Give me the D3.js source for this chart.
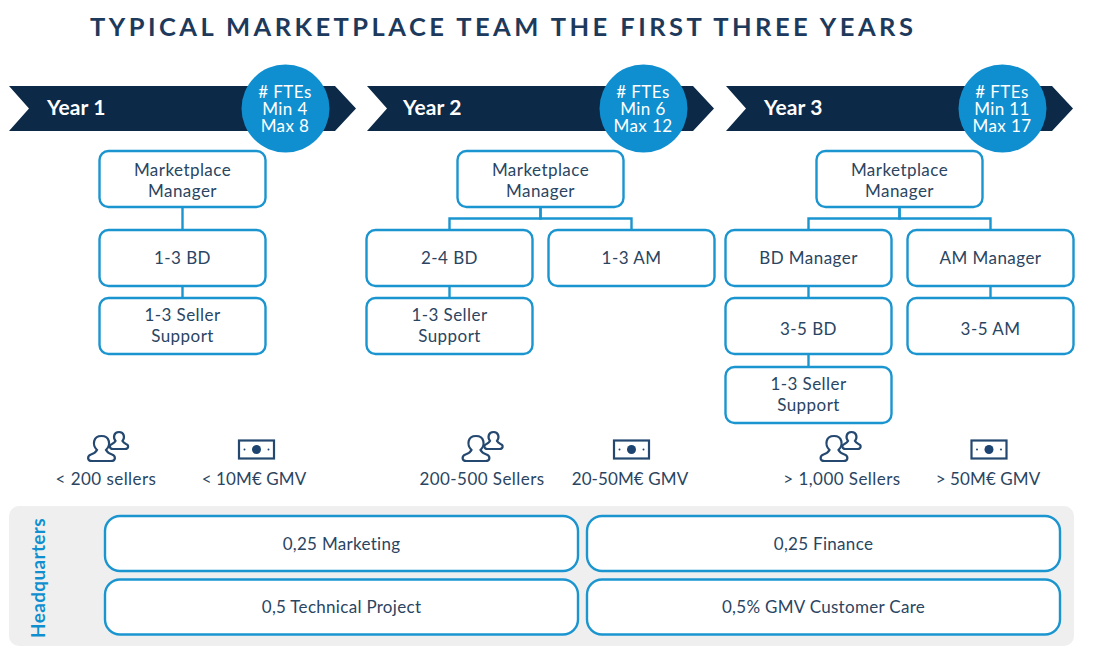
<!DOCTYPE html>
<html>
<head>
<meta charset="utf-8">
<script src="https://cdn.jsdelivr.net/npm/d3@7"></script>
<style>
  html, body { margin: 0; padding: 0; background: #fff; }
  svg { display: block; }
  text { font-family: Lato, "Open Sans", sans-serif; }
</style>
</head>
<body>
<script>
var w = 1103;
var h = 651;

var navy = "#0c2947";
var ink = "#2a4562";
var blue = "#0f8fcf";
var line = "#1b95cf";
var iconInk = "#24486f";

var chartTitle = "TYPICAL MARKETPLACE TEAM THE FIRST THREE YEARS";
var years = ["Year 1", "Year 2", "Year 3"];
var fteMin = [4, 6, 11];
var fteMax = [8, 12, 17];

// [year, slot, row, label]
var roles = [
  [0, "mid", 0, "Marketplace|Manager"],
  [0, "mid", 1, "1-3 BD"],
  [0, "mid", 2, "1-3 Seller|Support"],
  [1, "mid", 0, "Marketplace|Manager"],
  [1, "left", 1, "2-4 BD"],
  [1, "right", 1, "1-3 AM"],
  [1, "left", 2, "1-3 Seller|Support"],
  [2, "mid", 0, "Marketplace|Manager"],
  [2, "left", 1, "BD Manager"],
  [2, "right", 1, "AM Manager"],
  [2, "left", 2, "3-5 BD"],
  [2, "right", 2, "3-5 AM"],
  [2, "left", 3, "1-3 Seller|Support"]
];

// child role index -> parent role index
var reports = [[1, 0], [2, 1], [4, 3], [5, 3], [6, 4], [8, 7], [9, 7], [10, 8], [11, 9], [12, 10]];

var sellers = ["< 200 sellers", "200-500 Sellers", "> 1,000 Sellers"];
var gmv = ["< 10M€ GMV", "20-50M€ GMV", "> 50M€ GMV"];
var sellerX = [106, 482, 842];
var gmvX = [254, 630, 988];
var peopleX = [108, 482.5, 840.5];
var noteX = [256.5, 631.5, 989];

var hqTitle = "Headquarters";
var hqRoles = ["0,25 Marketing", "0,25 Finance", "0,5 Technical Project", "0,5% GMV Customer Care"];

var boxW = 166, boxH = 56;

var yearX = d3.scaleOrdinal().domain([0, 1, 2]).range([9, 367, 726]);
var slotX = d3.scaleOrdinal().domain(["left", "mid", "right"]).range([-0.5, 90.5, 181.5]);
var rowY = d3.scaleOrdinal().domain([0, 1, 2, 3]).range([151, 230, 298, 367]);

var roleX = function(d) { return yearX(d[0]) + slotX(d[1]); };

var svg = d3.select("body")
  .append("svg")
  .attr("width", w)
  .attr("height", h)
  .attr("viewBox", "0 0 " + w + " " + h);

svg.append("text")
  .attr("x", 90)
  .attr("y", 36)
  .attr("fill", "#1d3a5c")
  .style("font-size", "25.5px")
  .style("font-weight", 700)
  .style("letter-spacing", "3.45px")
  .text(chartTitle);

// year banners
var banner = svg.selectAll(".banner")
  .data(years)
  .enter()
  .append("g")
  .attr("class", "banner")
  .attr("transform", function(d, i) { return "translate(" + yearX(i) + ",0)"; });

banner.append("path")
  .attr("fill", navy)
  .attr("d", "M0,86 H326 L347,108.5 L326,131 H0 L20,108.5 Z");

banner.append("text")
  .attr("x", function(d, i) { return i == 1 ? 36 : 38; })
  .attr("y", 115)
  .attr("fill", "#fff")
  .style("font-size", "21px")
  .style("font-weight", 700)
  .style("letter-spacing", "0.15px")
  .text(function(d) { return d; });

banner.append("circle")
  .attr("cx", 276.5)
  .attr("cy", 108.5)
  .attr("r", 44)
  .attr("fill", blue);

banner.each(function(d, i) {
  var lines = ["# FTEs", "Min " + fteMin[i], "Max " + fteMax[i]];
  d3.select(this).selectAll(".fte")
    .data(lines)
    .enter()
    .append("text")
    .attr("class", "fte")
    .attr("x", 276)
    .attr("y", function(l, j) { return 98 + j * 17; })
    .attr("text-anchor", "middle")
    .attr("fill", "#fff")
    .style("font-size", "17px")
    .style("letter-spacing", "0.4px")
    .text(function(l) { return l; });
});

// connectors
svg.selectAll(".link")
  .data(reports)
  .enter()
  .append("path")
  .attr("class", "link")
  .attr("fill", "none")
  .attr("stroke", line)
  .attr("stroke-width", 2.4)
  .attr("d", function(d) {
    var c = roles[d[0]], p = roles[d[1]];
    var x1 = roleX(p) + boxW / 2, y1 = rowY(p[2]) + boxH;
    var x2 = roleX(c) + boxW / 2, y2 = rowY(c[2]);
    var mid = (y1 + y2) / 2;
    return "M" + x1 + "," + y1 + " V" + mid + " H" + x2 + " V" + y2;
  });

var role = svg.selectAll(".role")
  .data(roles)
  .enter()
  .append("g")
  .attr("class", "role")
  .attr("transform", function(d) { return "translate(" + roleX(d) + "," + rowY(d[2]) + ")"; });

role.append("rect")
  .attr("width", boxW)
  .attr("height", boxH)
  .attr("rx", 9)
  .attr("fill", "#fff")
  .attr("stroke", line)
  .attr("stroke-width", 2.4);

role.each(function(d) {
  var parts = d[3].split("|");
  var lower = d[2] >= 2;
  d3.select(this).selectAll("text")
    .data(parts)
    .enter()
    .append("text")
    .attr("x", boxW / 2)
    .attr("y", function(l, j) {
      if (parts.length == 1) return lower ? 36.5 : 33.5;
      return (lower ? 22.5 : 24.5) + j * 21;
    })
    .attr("text-anchor", "middle")
    .attr("fill", ink)
    .style("font-size", "17px")
    .style("letter-spacing", "0.45px")
    .text(function(l) { return l; });
});

// seller and GMV captions
function caption(labels, xs, spacing) {
  svg.selectAll(null)
    .data(labels)
    .enter()
    .append("text")
    .attr("x", function(d, i) { return xs[i]; })
    .attr("y", 485)
    .attr("text-anchor", "middle")
    .attr("fill", ink)
    .style("font-size", "17px")
    .style("letter-spacing", spacing)
    .text(function(d) { return d; });
}
caption(sellers, sellerX, "0.45px");
caption(gmv, gmvX, "0.1px");

// people icon: small figure behind, big figure in front
var people = svg.selectAll(".people")
  .data(peopleX)
  .enter()
  .append("g")
  .attr("class", "people")
  .attr("transform", function(d) { return "translate(" + d + ",447)"; })
  .attr("fill", "#fff")
  .attr("stroke", iconInk)
  .attr("stroke-width", 2.2);

people.append("path")
  .attr("d", "M5,2 H17 C21,2 21,-2 18,-3 C16,-4 15,-5 14.5,-6 C17,-9 16.5,-15 11,-15 C5.5,-15 5,-9 7.5,-6 C7,-5 6,-4 4,-3 C1,-2 1,2 5,2 Z");
people.append("path")
  .attr("d", "M-16,14 H3 C8,14 8,9 4,7.5 C1,6.5 -1,5 -2,3 C3,-2 2,-11 -6.5,-11 C-15,-11 -16,-2 -11,3 C-12,5 -14,6.5 -17,7.5 C-21,9 -21,14 -16,14 Z");

// banknote icon
var note = svg.selectAll(".note")
  .data(noteX)
  .enter()
  .append("g")
  .attr("class", "note")
  .attr("transform", function(d) { return "translate(" + d + ",449.5)"; });

note.append("rect")
  .attr("x", -17.5)
  .attr("y", -9)
  .attr("width", 35)
  .attr("height", 18)
  .attr("fill", "#fff")
  .attr("stroke", iconInk)
  .attr("stroke-width", 2.2);
note.append("circle").attr("r", 4.5).attr("fill", "#1d4470");
note.append("circle").attr("cx", -12).attr("r", 1).attr("fill", "#1d4470");
note.append("circle").attr("cx", 12).attr("r", 1).attr("fill", "#1d4470");

// headquarters panel
svg.append("rect")
  .attr("x", 9)
  .attr("y", 506)
  .attr("width", 1065)
  .attr("height", 140)
  .attr("rx", 10)
  .attr("fill", "#efefef");

svg.append("text")
  .attr("transform", "translate(44.5,578) rotate(-90)")
  .attr("text-anchor", "middle")
  .attr("fill", blue)
  .style("font-size", "19px")
  .style("font-weight", 700)
  .style("letter-spacing", "0.35px")
  .text(hqTitle);

var hqX = d3.scaleOrdinal().domain([0, 1]).range([105, 587]);
var hqY = d3.scaleOrdinal().domain([0, 1]).range([516, 579.5]);

var hq = svg.selectAll(".hq")
  .data(hqRoles)
  .enter()
  .append("g")
  .attr("class", "hq")
  .attr("transform", function(d, i) { return "translate(" + hqX(i % 2) + "," + hqY(Math.floor(i / 2)) + ")"; });

hq.append("rect")
  .attr("width", 473)
  .attr("height", 55)
  .attr("rx", 15)
  .attr("fill", "#fff")
  .attr("stroke", line)
  .attr("stroke-width", 2.4);

hq.append("text")
  .attr("x", 236.5)
  .attr("y", 33.5)
  .attr("text-anchor", "middle")
  .attr("fill", ink)
  .style("font-size", "17px")
  .style("letter-spacing", "0.3px")
  .text(function(d) { return d; });
</script>
</body>
</html>
